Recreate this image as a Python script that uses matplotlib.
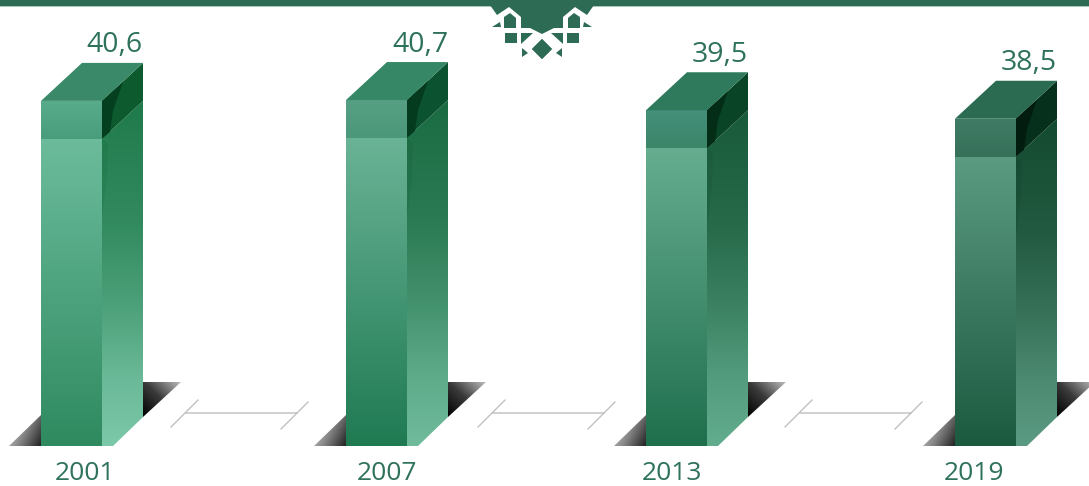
import numpy as np
import matplotlib
matplotlib.use('Agg')
import matplotlib.pyplot as plt
from matplotlib.colors import LinearSegmentedColormap, to_rgb
from matplotlib.patches import Polygon

plt.rcParams['font.family'] = ['Open Sans', 'DejaVu Sans']

years = ['2001', '2007', '2013', '2019']
values = [40.6, 40.7, 39.5, 38.5]

# colours per bar: shading gets darker towards the latest year
band_top = ['#58ab8b', '#569f84', '#44907a', '#3f7c65']
band_bottom = ['#4a9d7c', '#4c987b', '#3b8568', '#37705a']
front_top = ['#6cbc9c', '#6ab396', '#66ad90', '#5b9b82']
front_bottom = ['#2f8a60', '#1f7a52', '#1f6f4d', '#1c5a40']
side_top = ['#1f7a4b', '#1a6b42', '#185a3a', '#134a30']
side_bottom = ['#7cc8aa', '#6fbb9c', '#62ad8e', '#5b9a82']
top_face = ['#3a8a69', '#358766', '#2f7a5c', '#2a6b52']
dark_band = ['#0c5a2e', '#0b5230', '#0a4426', '#06301b']
dark_wedge = ['#04401f', '#043a1d', '#032d16', '#021c0f']

# layout in pixels
W, H = 1089, 486
base_y = 446
px_per_unit = 8.5
bar_left = [41, 346, 646, 955]
bar_w = 61
depth_x = 41
depth_y = 38
band_h = 38
year_x = [85, 387, 672, 974]
label_x = [114, 420, 720, 1029]
link_x = [171, 478, 785]

text_col = '#2e725c'
deco_col = '#2d6b55'

fig = plt.figure(figsize=(W / 100, H / 100), dpi=100)
ax = fig.add_axes([0, 0, 1, 1])
ax.set_axis_off()


def vy(px):
    # height of a pixel row on the value scale
    return (base_y - px) / px_per_unit


def du(px):
    return px / px_per_unit


def mix(a, b, t):
    a, b = np.array(to_rgb(a)), np.array(to_rgb(b))
    return tuple(a + (b - a) * t)


def gradient(pts, stops, direction=(0, 1), zorder=2):
    # fill a polygon with a linear gradient, clipped to its outline;
    # direction is (right, down) in screen terms
    pts = np.array(pts, dtype=float)
    cmap = LinearSegmentedColormap.from_list('g', stops)
    xx, yy = np.meshgrid(np.linspace(0, 1, 128), np.linspace(0, 1, 256))
    ramp = xx * direction[0] + yy * direction[1]
    ramp = (ramp - ramp.min()) / (ramp.max() - ramp.min())
    x0, x1 = pts[:, 0].min(), pts[:, 0].max()
    y0, y1 = pts[:, 1].min(), pts[:, 1].max()
    im = ax.imshow(ramp, cmap=cmap, extent=[x0, x1, y0, y1], origin='upper',
                   aspect='auto', zorder=zorder, interpolation='bilinear')
    clip = Polygon(pts, closed=True, transform=ax.transData, fc='none', ec='none')
    ax.add_patch(clip)
    im.set_clip_path(clip)


def fill(pts, color, zorder=3, **kw):
    ax.add_patch(Polygon(pts, closed=True, fc=color, ec='none', zorder=zorder, **kw))


for i, v in enumerate(values):
    x0 = bar_left[i]
    x1 = x0 + bar_w
    x2 = x1 + depth_x
    dy = du(depth_y)
    band = du(band_h)

    # floor shadows either side of the bar
    gradient([(x0 - 32, 0), (x0, 0), (x0, du(31))], ['#d4d4d4', '#8a8a8a', '#222222'],
             direction=(1, 0.5), zorder=1)
    gradient([(x2, du(29)), (x2, du(64)), (x2 + 38, du(64))], ['#000000', '#3a3a3a', '#c0c0c0'],
             direction=(1, -1), zorder=1)

    # front face and its upper band
    gradient([(x0, 0), (x1, 0), (x1, v - band), (x0, v - band)], [front_top[i], front_bottom[i]])
    gradient([(x0, v - band), (x1, v - band), (x1, v), (x0, v)], [band_top[i], band_bottom[i]])

    # side face, cut off by the floor
    side = [(t, mix(side_top[i], side_bottom[i], m))
            for t, m in [(0, 0), (0.35, 0.2), (0.6, 0.5), (0.8, 0.8), (1, 1)]]
    gradient([(x1, 0), (x1 + 11, 0), (x2, du(29)), (x2, v + dy - band), (x1, v - band)], side)
    fill([(x1, v - band), (x1 + 6, v - band - du(5)), (x1 + 5, v - band - du(40)), (x1, v - band - du(80))],
         dark_band[i], zorder=3, alpha=0.13)
    fill([(x1, v), (x2, v + dy), (x2, v + dy - band), (x1, v - band)], dark_band[i])
    fill([(x1, v), (x1 + 21, v + du(19)), (x1 + 11, v - du(10)), (x1 + 8, v - du(31)), (x1, v - band)],
         dark_wedge[i], zorder=4)

    # top face
    fill([(x0, v), (x1, v), (x2, v + dy), (x0 + depth_x, v + dy)], top_face[i])

    ax.text(label_x[i], v + du(59) - du(3.5), ('%.1f' % v).replace('.', ','), color=text_col,
            fontsize=20.5, ha='center', va='center', zorder=6)
    ax.text(year_x[i], vy(473), years[i], color=text_col, fontsize=19,
            ha='center', va='center', zorder=6)

# connectors between the years
for x in link_x:
    ax.plot([x + 15, x + 126], [vy(412.5), vy(412.5)], color='#c4c4c4', lw=1.1, zorder=1)
    ax.plot([x, x + 27], [vy(427), vy(400)], color='#bcbcbc', lw=0.9, zorder=1)
    ax.plot([x + 110, x + 137], [vy(429), vy(402)], color='#bcbcbc', lw=0.9, zorder=1)

# header strip
fill([(0, vy(0)), (W, vy(0)), (W, vy(6)), (0, vy(6))], deco_col, zorder=5)
fill([(0, vy(6)), (W, vy(6)), (W, vy(7)), (0, vy(7))], '#a9c6ba', zorder=5)


def ornament(pts):
    # lattice pieces are symmetric about the centre of the strip
    cx = 542
    fill([(x, vy(y)) for x, y in pts], deco_col, zorder=6)
    fill([(2 * cx - x, vy(y)) for x, y in pts], deco_col, zorder=6)


ornament([(490, 5), (542, 5), (542, 34), (530, 28), (521, 28), (521, 17), (509, 7), (497, 15)])
ornament([(504, 17), (510, 13), (516, 18), (516, 28), (504, 28)])
ornament([(492, 27), (500, 22), (501, 27)])
ornament([(505, 33), (517, 33), (517, 43), (505, 43)])
ornament([(521, 33), (533, 33), (521, 44)])
ornament([(522, 48), (528, 53), (522, 57)])
ornament([(542, 39), (552, 49), (542, 59), (532, 49)])

ax.set_xlim(0, W)
ax.set_ylim(vy(H), vy(0))
fig.savefig('out.png', dpi=100, facecolor='white')
